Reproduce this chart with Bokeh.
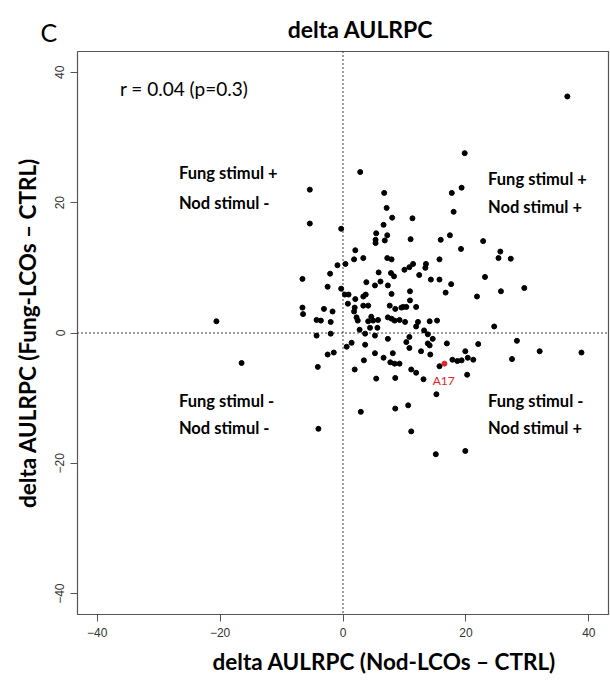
from bokeh.plotting import figure
from bokeh.layouts import column
from bokeh.models import Span, Label, Range1d, FixedTicker, Title
from bokeh.embed import file_html
from bokeh.resources import INLINE

# ---- data: delta AULRPC (Nod-LCOs - CTRL) vs delta AULRPC (Fung-LCOs - CTRL)
nod_delta = [
    36.5,
    19.8, 19.3, 17.7, 6.7, 7.1, 18.0, 8.0, 11.3, 6.6, 5.4, 5.3, 5.3, 7.2, 6.8, 11.0, 17.4, 15.9, 22.8, 19.2,
    25.6, 25.3, 27.3, 3.3, 7.2, 7.9, 15.7, 11.4, 10.8, 10.0, 13.5, 13.4, 5.8, 7.8, 8.3, 12.4, 23.1, 14.3, 15.7,
    3.8, 5.2, 6.1, 7.3, 7.9, 10.9, 16.7, 17.6, 21.8, 25.7, 29.5, 3.3, 3.7, 3.3, 4.1, 7.6, 8.5, 9.5, 9.8, 10.3,
    10.9, 11.9, 4.6, 4.9, 5.7, 7.3, 7.9, 8.4, 9.2, 10.1, 12.2, 14.1, 15.3, 24.6, 4.1, 2.7, 3.6, 4.4, 5.6, 5.2,
    7.3, 10.3, 10.8, 11.9, 13.2, 13.8, 14.6, 16.9, 22.0, 28.3, 3.6, 5.2, 8.1, 10.8, 12.7, 13.8, 14.1, 14.2,
    19.9, 32.0, 38.8, 3.4, 6.6, 7.7, 8.4, 9.2, 11.1, 11.9, 15.7, 17.8, 18.6, 19.3, 20.3, 21.2, 27.5, 5.4, 8.5,
    13.1, 20.2, 15.2, 8.5, 10.6, 2.9, 11.1, 15.1, 19.9,
    2.8, -5.4, -5.4, -0.3, 2.0, 1.8, -0.9, 0.4, -2.1, -6.6, -2.5, -0.3, 0.3, 0.9, 2.0, 0.8, 1.9, 1.8, -6.6,
    -6.5, -3.1, -1.7, -4.3, -3.6, -2.0, 2.2, 2.4, -20.6, -4.3, -2.0, 0.6, 1.4, -2.5, -1.5, -16.5, -4.1, 1.9,
    -4.0,
]
fung_delta = [
    36.3,
    27.6, 22.3, 21.5, 21.5, 19.2, 18.6, 17.7, 17.6, 16.6, 15.3, 14.3, 13.8, 15.0, 14.2, 14.4, 15.0, 14.3, 14.1,
    12.9, 12.5, 11.5, 11.4, 11.5, 11.5, 11.3, 11.3, 10.6, 10.1, 9.7, 10.6, 10.0, 9.3, 9.2, 8.7, 8.9, 8.6, 8.2,
    8.2,
    7.8, 7.3, 7.9, 7.3, 6.0, 6.4, 6.2, 7.5, 5.6, 6.4, 6.9, 5.6, 5.9, 4.2, 4.2, 4.2, 3.7, 3.9, 4.0, 4.0,
    5.0, 4.0, 2.5, 1.9, 2.0, 2.4, 2.2, 1.9, 2.0, 1.7, 1.7, 1.8, 1.9, 1.0, 1.8, 0.5, -0.1, 0.8, 0.8, -0.4,
    -0.9, -1.4, -0.6, 1.0, 0.4, -0.2, -0.9, -1.6, -1.7, -1.2, -1.8, -3.1, -3.1, -2.3, -2.8, -1.6, -1.9, -3.3,
    -2.8, -2.8, -3.0, -4.2, -3.8, -4.5, -4.7, -4.7, -5.6, -6.1, -5.1, -4.1, -4.3, -4.2, -3.8, -4.1, -4.0, -7.0,
    -6.9, -7.1, -6.4, -9.4, -11.6, -11.1, -12.1, -15.1, -18.6, -18.1,
    24.7, 22.0, 16.8, 16.0, 12.7, 11.3, 10.4, 10.6, 9.1, 8.3, 7.1, 6.8, 5.9, 5.9, 5.2, 4.5, 3.9, 3.3, 3.9,
    2.9, 3.7, 3.3, 2.0, 1.9, 1.7, 2.4, 1.9, 1.8, -0.4, -0.1, -2.1, -1.5, -3.3, -3.0, -4.6, -5.2, -5.6,
    -14.7,
]
highlight_x = [16.5]
highlight_y = [-4.7]
highlight_name = ["A17"]
tick_values = [-40, -20, 0, 20, 40]

FONT = "Lato"
HEADER_H = 50

# ---- header strip with panel letter and title
header = figure(width=610, height=HEADER_H, output_backend="svg", toolbar_location=None,
                x_range=Range1d(0, 610), y_range=Range1d(HEADER_H, 0),
                x_axis_type=None, y_axis_type=None, frame_align=False,
                min_border_left=0, min_border_right=0, min_border_top=0, min_border_bottom=0)
header.grid.visible = False
header.outline_line_color = None
header.add_layout(Label(x=40, y=31, text="C", text_font=FONT, text_font_size="25px",
                        text_color="black", text_align="left", text_baseline="middle"))
header.add_layout(Label(x=360, y=28, text="delta AULRPC", text_font=FONT, text_font_size="23px",
                        text_font_style="bold", text_color="black",
                        text_align="center", text_baseline="middle"))

# ---- main scatter
p = figure(width=610, height=688 - HEADER_H, output_backend="svg", toolbar_location=None,
           x_range=Range1d(-43.2, 43.2), y_range=Range1d(-43.2, 43.2), frame_align=False,
           min_border_left=77, min_border_right=2, min_border_top=1, min_border_bottom=74)
p.background_fill_color = "white"
p.border_fill_color = "white"
p.grid.visible = False
p.outline_line_color = "#555555"
p.outline_line_width = 1.2

for ax in (p.xaxis[0], p.yaxis[0]):
    ax.ticker = FixedTicker(ticks=tick_values)
    ax.axis_line_color = "#555555"
    ax.major_tick_line_color = "#555555"
    ax.major_tick_out = 7
    ax.major_tick_in = 0
    ax.minor_tick_line_color = None
    ax.major_label_text_font = "Liberation Sans"
    ax.major_label_text_font_size = "12px"
    ax.major_label_text_color = "#333333"
    ax.major_label_standoff = 6
p.yaxis.major_label_orientation = "vertical"
p.yaxis.axis_label = "delta AULRPC (Fung-LCOs \u2013 CTRL)"
p.yaxis.axis_label_text_font = FONT
p.yaxis.axis_label_text_font_size = "22.5px"
p.yaxis.axis_label_text_font_style = "bold"
p.yaxis.axis_label_text_color = "black"
p.yaxis.axis_label_standoff = 12

p.add_layout(Title(text="delta AULRPC (Nod-LCOs \u2013 CTRL)", align="left", offset=135,
                   text_font=FONT, text_font_size="22.5px", text_font_style="bold",
                   text_color="black", standoff=12), "below")

p.add_layout(Span(location=0, dimension="height", line_color="black", line_dash="1 3", line_width=1.5))
p.add_layout(Span(location=0, dimension="width", line_color="black", line_dash="1 3", line_width=1.5))

p.scatter(nod_delta, fung_delta, size=5, color="black")
p.scatter(highlight_x, highlight_y, size=5, color="#e8202a")

def lab(x, y, text, size="16.5px", bold=True, color="black"):
    p.add_layout(Label(x=x, y=y, text=text, text_font=FONT, text_font_size=size,
                       text_font_style="bold" if bold else "normal", text_color=color,
                       text_align="left", text_baseline="middle"))

lab(-36.3, 37.5, "r = 0.04 (p=0.3)", size="19px", bold=False)
lab(-26.7, 24.5, "Fung stimul +")
lab(-26.7, 20.0, "Nod  stimul -")
lab(23.6, 23.7, "Fung stimul +")
lab(23.6, 19.3, "Nod  stimul +")
lab(-26.7, -10.4, "Fung stimul -")
lab(-26.7, -14.6, "Nod  stimul -")
lab(23.6, -10.4, "Fung stimul -")
lab(23.6, -14.6, "Nod  stimul +")
lab(highlight_x[0] - 1.9, highlight_y[0] - 2.6, highlight_name[0], size="12px", bold=False, color="#e8202a")

layout = column(header, p, spacing=0)
open("out.html", "w").write(file_html(layout, INLINE))
